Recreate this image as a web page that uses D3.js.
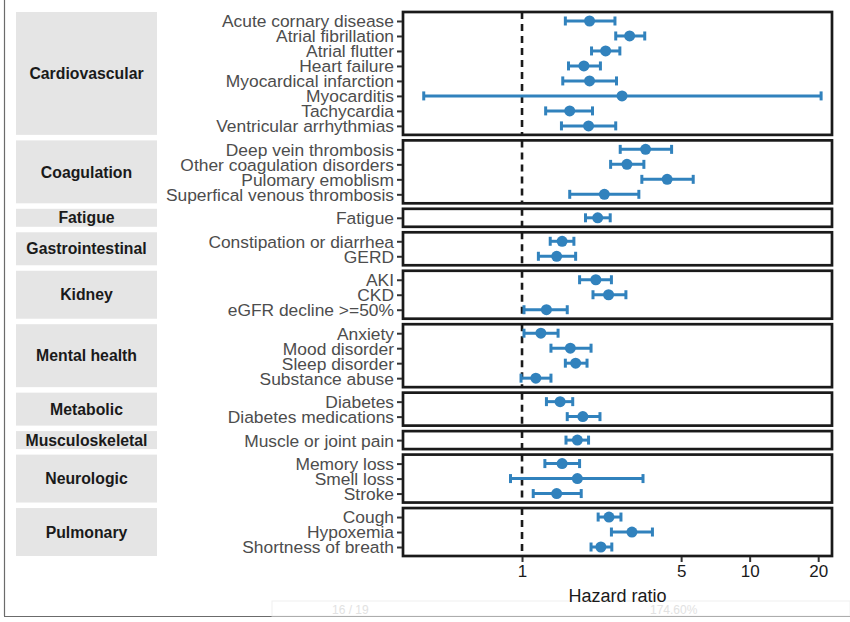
<!DOCTYPE html>
<html>
<head>
<meta charset="utf-8">
<script src="https://cdn.jsdelivr.net/npm/d3@7/dist/d3.min.js"></script>
<style>
  body { margin: 0; background: #fff; }
  svg { font-family: "Liberation Sans", Arial, sans-serif; display: block; }
</style>
</head>
<body>
<svg></svg>
<script>
// forest plot data
const groups = ['Cardiovascular', 'Coagulation', 'Fatigue', 'Gastrointestinal', 'Kidney',
                'Mental health', 'Metabolic', 'Musculoskeletal', 'Neurologic', 'Pulmonary'];

const outcomes = [
  'Acute cornary disease', 'Atrial fibrillation', 'Atrial flutter', 'Heart failure',
  'Myocardical infarction', 'Myocarditis', 'Tachycardia', 'Ventricular arrhythmias',
  'Deep vein thrombosis', 'Other coagulation disorders', 'Pulomary emoblism', 'Superfical venous thrombosis',
  'Fatigue',
  'Constipation or diarrhea', 'GERD',
  'AKI', 'CKD', 'eGFR decline >=50%',
  'Anxiety', 'Mood disorder', 'Sleep disorder', 'Substance abuse',
  'Diabetes', 'Diabetes medications',
  'Muscle or joint pain',
  'Memory loss', 'Smell loss', 'Stroke',
  'Cough', 'Hypoxemia', 'Shortness of breath'
];

const outcomeGroup = [
  'Cardiovascular', 'Cardiovascular', 'Cardiovascular', 'Cardiovascular',
  'Cardiovascular', 'Cardiovascular', 'Cardiovascular', 'Cardiovascular',
  'Coagulation', 'Coagulation', 'Coagulation', 'Coagulation',
  'Fatigue',
  'Gastrointestinal', 'Gastrointestinal',
  'Kidney', 'Kidney', 'Kidney',
  'Mental health', 'Mental health', 'Mental health', 'Mental health',
  'Metabolic', 'Metabolic',
  'Musculoskeletal',
  'Neurologic', 'Neurologic', 'Neurologic',
  'Pulmonary', 'Pulmonary', 'Pulmonary'
];

const hr    = [1.98, 2.97, 2.33, 1.87, 1.98, 2.75, 1.62, 1.96,
               3.49, 2.89, 4.34, 2.30,
               2.15,
               1.50, 1.42,
               2.11, 2.40, 1.28,
               1.21, 1.63, 1.72, 1.15,
               1.47, 1.85,
               1.75,
               1.50, 1.75, 1.42,
               2.41, 3.04, 2.22];

const lower = [1.55, 2.58, 2.02, 1.60, 1.51, 0.37, 1.27, 1.49,
               2.70, 2.45, 3.36, 1.62,
               1.90,
               1.33, 1.18,
               1.79, 2.05, 1.02,
               1.02, 1.34, 1.55, 0.99,
               1.28, 1.58,
               1.56,
               1.26, 0.89, 1.12,
               2.16, 2.47, 2.01];

const upper = [2.56, 3.46, 2.69, 2.21, 2.60, 20.6, 2.04, 2.58,
               4.54, 3.43, 5.65, 3.26,
               2.44,
               1.69, 1.72,
               2.47, 2.86, 1.58,
               1.44, 2.01, 1.93, 1.34,
               1.67, 2.20,
               1.96,
               1.79, 3.40, 1.82,
               2.72, 3.74, 2.48];

const xTicks = [1, 5, 10, 20];

let width = 850;
let height = 622;

let panelLeft = 403;
let panelRight = 832;
let plotTop = 12;
let plotBottom = 556;
let panelGap = 5.5;
let stripLeft = 16;
let stripRight = 157;

let blue = '#3182bd';
let ink = '#1a1a1a';

let svg = d3.select('svg')
    .attr('width', width)
    .attr('height', height);

let rows = outcomes.map((name, i) => {
    return { name: name, group: outcomeGroup[i], hr: hr[i], lo: lower[i], hi: upper[i] };
});

let xScale = d3.scaleLog()
    .domain([0.3, 23])
    .range([panelLeft, panelRight]);

// panel heights follow the number of rows (like facet space = "free_y")
let counts = groups.map((g) => rows.filter((r) => r.group === g).length);
let totalUnits = d3.sum(counts, (c) => c + 0.2);
let unit = (plotBottom - plotTop - panelGap * (groups.length - 1)) / totalUnits;

let drawFrame = () => {
    svg.append('line')
        .attr('x1', 4.5).attr('x2', 4.5)
        .attr('y1', 0).attr('y2', 616)
        .attr('stroke', '#6b6b6b').attr('stroke-width', 1.2);
    svg.append('line')
        .attr('x1', 4).attr('x2', width)
        .attr('y1', 616.5).attr('y2', 616.5)
        .attr('stroke', '#6b6b6b').attr('stroke-width', 1.2);

    // faint viewer toolbar behind the axis title
    let bar = svg.append('g').attr('fill', '#e2e2e2').style('font-size', '12px');
    bar.append('rect')
        .attr('x', 272).attr('y', 601).attr('width', 578).attr('height', 15)
        .attr('fill', 'none').attr('stroke', '#f0f0f0');
    bar.append('text').attr('x', 332).attr('y', 614).text('16 / 19');
    bar.append('text').attr('x', 650).attr('y', 614).text('174.60%');
}

let drawPanels = () => {
    let y0 = plotTop;

    groups.forEach((g, gi) => {
        let items = rows.filter((r) => r.group === g);
        let h = (counts[gi] + 0.2) * unit;

        let yScale = d3.scalePoint()
            .domain(items.map((r) => r.name))
            .range([0, h])
            .padding(0.6);

        let panel = svg.append('g')
            .attr('transform', 'translate(0, ' + y0 + ')');

        // strip on the left
        panel.append('rect')
            .attr('x', stripLeft)
            .attr('y', 0)
            .attr('width', stripRight - stripLeft)
            .attr('height', h)
            .attr('fill', '#e5e5e5');

        panel.append('text')
            .attr('x', (stripLeft + stripRight) / 2)
            .attr('y', h / 2)
            .attr('dy', '0.36em')
            .attr('text-anchor', 'middle')
            .attr('fill', ink)
            .style('font-size', '15.8px')
            .style('font-weight', 'bold')
            .text(g);

        // reference line at HR = 1
        panel.append('line')
            .attr('x1', xScale(1)).attr('x2', xScale(1))
            .attr('y1', 0).attr('y2', h)
            .attr('stroke', ink)
            .attr('stroke-width', 2.6)
            .attr('stroke-dasharray', '7,5');

        // confidence intervals
        let bars = panel.selectAll('.ci')
            .data(items)
            .enter()
            .append('g')
            .attr('class', 'ci')
            .attr('stroke', blue)
            .attr('stroke-width', 3);

        bars.append('line')
            .attr('x1', (d) => xScale(d.lo))
            .attr('x2', (d) => xScale(d.hi))
            .attr('y1', (d) => yScale(d.name))
            .attr('y2', (d) => yScale(d.name));

        bars.append('line')
            .attr('x1', (d) => xScale(d.lo))
            .attr('x2', (d) => xScale(d.lo))
            .attr('y1', (d) => yScale(d.name) - 4.5)
            .attr('y2', (d) => yScale(d.name) + 4.5);

        bars.append('line')
            .attr('x1', (d) => xScale(d.hi))
            .attr('x2', (d) => xScale(d.hi))
            .attr('y1', (d) => yScale(d.name) - 4.5)
            .attr('y2', (d) => yScale(d.name) + 4.5);

        panel.selectAll('.pt')
            .data(items)
            .enter()
            .append('circle')
            .attr('class', 'pt')
            .attr('cx', (d) => xScale(d.hr))
            .attr('cy', (d) => yScale(d.name))
            .attr('r', 5.5)
            .attr('fill', blue);

        // panel border
        panel.append('rect')
            .attr('x', panelLeft)
            .attr('y', 0)
            .attr('width', panelRight - panelLeft)
            .attr('height', h)
            .attr('fill', 'none')
            .attr('stroke', ink)
            .attr('stroke-width', 2.7);

        // y axis labels
        let yAxis = d3.axisLeft(yScale).tickSize(5).tickPadding(3);
        let ya = panel.append('g')
            .attr('transform', 'translate(' + (panelLeft - 1) + ', 0)')
            .call(yAxis);
        ya.select('.domain').remove();
        ya.selectAll('line').attr('stroke', '#333').attr('stroke-width', 2);
        ya.selectAll('text')
            .attr('fill', '#4d4d4d')
            .attr('dy', '0.34em')
            .style('font-size', '17.4px');

        y0 += h + panelGap;
    });
}

let drawXAxis = () => {
    let xAxis = d3.axisBottom(xScale)
        .tickValues(xTicks)
        .tickFormat(d3.format('d'))
        .tickSize(5)
        .tickPadding(3);

    let xa = svg.append('g')
        .attr('transform', 'translate(0, ' + (plotBottom + 1) + ')')
        .call(xAxis);
    xa.select('.domain').remove();
    xa.selectAll('line').attr('stroke', '#333').attr('stroke-width', 2);
    xa.selectAll('text')
        .attr('fill', ink)
        .style('font-size', '17px');

    svg.append('text')
        .attr('x', (panelLeft + panelRight) / 2)
        .attr('y', 601.5)
        .attr('text-anchor', 'middle')
        .attr('fill', ink)
        .style('font-size', '18px')
        .text('Hazard ratio');
}

drawFrame();
drawPanels();
drawXAxis();
</script>
</body>
</html>
